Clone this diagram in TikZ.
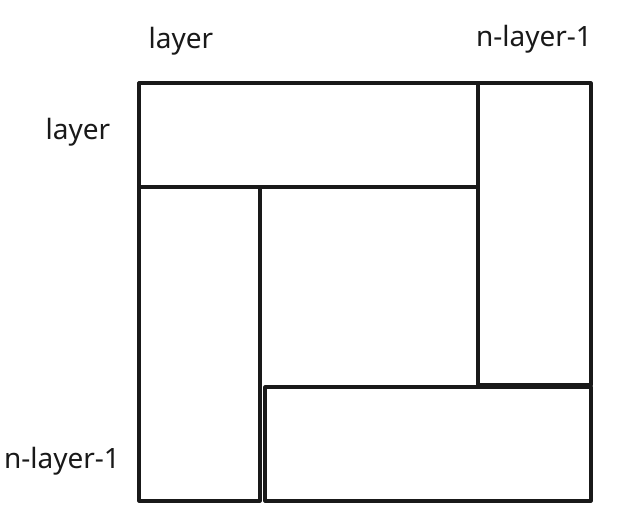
\documentclass[tikz,border=0pt]{standalone}
\usepackage{fontspec}
\setmainfont{Noto Sans}
\begin{document}
\begin{tikzpicture}[x=1pt,y=-1pt,
  box/.style={draw=black!90, line width=3.2pt, inner sep=0pt, line join=round},
  lbl/.style={font=\fontsize{28}{32}\selectfont, text=black!90, inner sep=0pt}]
\useasboundingbox (0,0) rectangle (642,528);
\node[box, minimum width=339pt, minimum height=104pt] (top) at (308.5,135) {};
\node[box, minimum width=113pt, minimum height=302pt] (right) at (534.5,234) {};
\node[box, minimum width=121pt, minimum height=314pt] (left) at (199.5,344) {};
\node[box, minimum width=326pt, minimum height=114pt] (bottom) at (428,444) {};
\node[lbl] (ltop) at (181,41) {layer};
\node[lbl] (ntop) at (534,39) {n-layer-1};
\node[lbl] (lleft) at (78,132) {layer};
\node[lbl] (nleft) at (62,461) {n-layer-1};
\end{tikzpicture}
\end{document}
